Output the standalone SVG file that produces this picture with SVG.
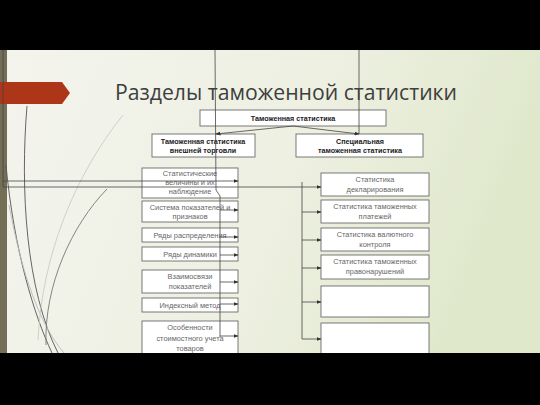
<svg xmlns="http://www.w3.org/2000/svg" width="540" height="405" viewBox="0 0 540 405">
<defs>
<linearGradient id="bg" x1="0" y1="0" x2="1" y2="0.3">
<stop offset="0" stop-color="#f4f4ee"/>
<stop offset="0.6" stop-color="#eef0e2"/>
<stop offset="1" stop-color="#dfe8cb"/>
</linearGradient>
<marker id="ar" markerWidth="5" markerHeight="4" refX="4.5" refY="2" orient="auto" markerUnits="userSpaceOnUse">
<path d="M0,0 L5,2 L0,4 Z" fill="#333"/>
</marker>
<style>
.box{fill:#ffffff;stroke:#6a6a6a;stroke-width:0.9}
.bt{font-family:"Liberation Sans",Arial,sans-serif;font-size:7.2px;font-weight:bold;fill:#222;text-anchor:middle}
.nt{font-family:"Liberation Sans",Arial,sans-serif;font-size:7.4px;fill:#666;text-anchor:middle}
.ln{fill:none;stroke:#444;stroke-width:0.8}
.cv{fill:none;stroke-width:0.9}
</style>
</defs>
<rect x="0" y="0" width="540" height="405" fill="url(#bg)"/>
<!-- decorative theme curves -->
<g id="decor">
<rect x="0" y="50" width="7" height="303" fill="#746e57"/>
<path class="cv" d="M27,106 C20,190 26,290 58,353" stroke="#555"/>
<path class="cv" d="M6,165 C14,250 34,315 52,353" stroke="#555"/>
<path class="cv" d="M9,205 C22,275 40,325 64,353" stroke="#bbb"/>
<path class="cv" d="M123,115 C75,175 42,255 38,340" stroke="#ccc"/>
<path class="cv" d="M107,189 C72,225 44,285 46,345" stroke="#777"/>
<path d="M0,82 L62,82 L70,93 L62,104 L0,104 Z" fill="#ad3518"/>
</g>
<text x="115" y="100" textLength="342" lengthAdjust="spacingAndGlyphs" font-family="'Open Sans','DejaVu Sans',sans-serif" font-size="22" fill="#3e3e3e">Разделы таможенной статистики</text>
<!-- nodes -->
<g id="n-root"><rect class="box" x="200" y="110" width="186" height="16"/><text class="bt" x="293" y="121">Таможенная статистика</text></g>
<g id="n-foreign"><rect class="box" x="152" y="134" width="103" height="23"/><text class="bt" x="203" y="143.5">Таможенная статистика</text><text class="bt" x="203" y="152.5">внешней торговли</text></g>
<g id="n-special"><rect class="box" x="296" y="134" width="127" height="23"/><text class="bt" x="360" y="143.5">Специальная</text><text class="bt" x="360" y="152.5">таможенная статистика</text></g>

<g id="l1"><rect class="box" x="142" y="168" width="96" height="30"/><text class="nt" x="190" y="176">Статистические</text><text class="nt" x="190" y="185">величины и их</text><text class="nt" x="190" y="194">наблюдение</text></g>
<g id="l2"><rect class="box" x="142" y="201" width="96" height="21"/><text class="nt" x="190" y="209.5">Система показателей и</text><text class="nt" x="190" y="218.5">признаков</text></g>
<g id="l3"><rect class="box" x="142" y="228" width="96" height="14"/><text class="nt" x="190" y="237.5">Ряды распределения</text></g>
<g id="l4"><rect class="box" x="142" y="247" width="96" height="14"/><text class="nt" x="190" y="256.5">Ряды динамики</text></g>
<g id="l5"><rect class="box" x="142" y="270" width="96" height="23"/><text class="nt" x="190" y="279">Взаимосвязи</text><text class="nt" x="190" y="289">показателей</text></g>
<g id="l6"><rect class="box" x="142" y="298" width="96" height="14"/><text class="nt" x="190" y="307.5">Индексный метод</text></g>
<g id="l7"><rect class="box" x="142" y="321" width="96" height="40"/><text class="nt" x="190" y="330">Особенности</text><text class="nt" x="190" y="340.5">стоимостного учета</text><text class="nt" x="190" y="351">товаров</text></g>

<g id="r1"><rect class="box" x="321" y="173" width="108" height="23"/><text class="nt" x="375" y="182">Статистика</text><text class="nt" x="375" y="191.5">декларирования</text></g>
<g id="r2"><rect class="box" x="321" y="200" width="108" height="23"/><text class="nt" x="375" y="209">Статистика таможенных</text><text class="nt" x="375" y="218.5">платежей</text></g>
<g id="r3"><rect class="box" x="321" y="228" width="108" height="23"/><text class="nt" x="375" y="237">Статистика валютного</text><text class="nt" x="375" y="246.5">контроля</text></g>
<g id="r4"><rect class="box" x="321" y="255" width="108" height="24"/><text class="nt" x="375" y="264">Статистика таможенных</text><text class="nt" x="375" y="274">правонарушений</text></g>
<g id="r5"><rect class="box" x="321" y="286" width="108" height="31"/></g>
<g id="r6"><rect class="box" x="321" y="323" width="108" height="40"/></g>

<!-- connectors -->
<g id="connectors">
<path class="ln" d="M293,126 L216,134" marker-end="url(#ar)"/>
<path class="ln" d="M293,126 L359,134" marker-end="url(#ar)"/>
<path class="ln" d="M3,50 L3,187"/>
<path class="ln" d="M215,50 L216,190 L220,196 L220,337"/>
<path class="ln" d="M359,50 L359,134"/>
<path class="ln" d="M3,181 L238,181" marker-end="url(#ar)"/>
<path class="ln" d="M3,187 L321,187" marker-end="url(#ar)"/>
<path class="ln" d="M220,210 L238,210" marker-end="url(#ar)"/>
<path class="ln" d="M220,237 L238,237" marker-end="url(#ar)"/>
<path class="ln" d="M220,255 L238,255" marker-end="url(#ar)"/>
<path class="ln" d="M220,282 L238,282" marker-end="url(#ar)"/>
<path class="ln" d="M220,304 L238,304" marker-end="url(#ar)"/>
<path class="ln" d="M220,336 L238,336" marker-end="url(#ar)"/>
<path class="ln" d="M302,182 L302,339"/>
<path class="ln" d="M302,212 L321,212" marker-end="url(#ar)"/>
<path class="ln" d="M302,240 L321,240" marker-end="url(#ar)"/>
<path class="ln" d="M302,268 L321,268" marker-end="url(#ar)"/>
<path class="ln" d="M302,302 L321,302" marker-end="url(#ar)"/>
<path class="ln" d="M302,339 L321,339" marker-end="url(#ar)"/>
</g>
<rect x="0" y="0" width="540" height="50" fill="#000"/>
<rect x="0" y="353" width="540" height="52" fill="#000"/>
</svg>
